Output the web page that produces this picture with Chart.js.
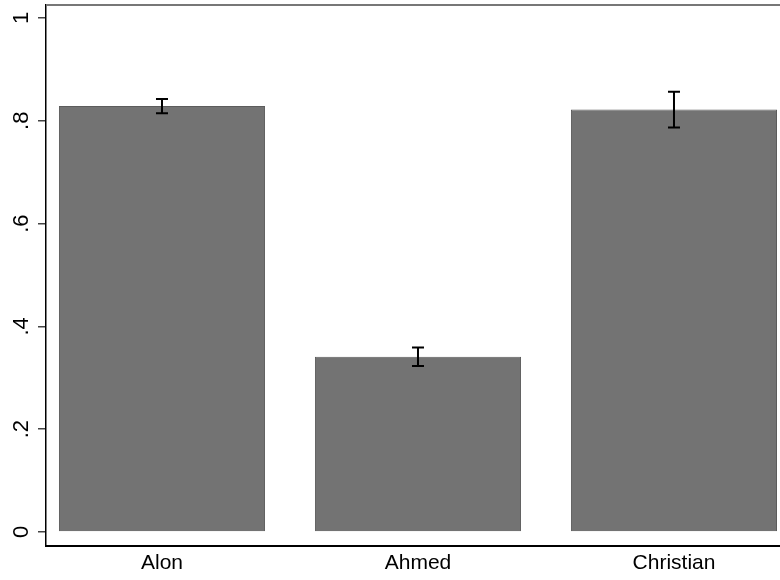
<!DOCTYPE html>
<html>
<head>
<meta charset="utf-8">
<script src="https://cdn.jsdelivr.net/npm/chart.js@4/dist/chart.umd.min.js"></script>
<style>
  html, body { margin: 0; padding: 0; background: #ffffff; }
  #wrap { width: 780px; height: 580px; overflow: hidden; }
</style>
</head>
<body>
<div id="wrap"><canvas id="c" width="780" height="580"></canvas></div>
<script>
// Mean share per name, with confidence interval bounds
const categories = ['Alon', 'Ahmed', 'Christian'];
const means = [0.829, 0.341, 0.822];
const ciLow = [0.8145, 0.323, 0.787];
const ciHigh = [0.8423, 0.359, 0.8565];
const yTickValues = [0, 0.2, 0.4, 0.6, 0.8, 1];
const yTickLabels = ['0', '.2', '.4', '.6', '.8', '1'];

const FONT = 'Liberation Sans, Arial, Helvetica, sans-serif';

// Capped error bars drawn on top of the bars
const errorBars = {
  id: 'errorBars',
  afterDatasetsDraw(chart) {
    const ctx = chart.ctx;
    const xs = chart.scales.x, ys = chart.scales.y;
    ctx.save();
    ctx.strokeStyle = '#000000';
    ctx.lineWidth = 2;
    categories.forEach((c, i) => {
      const x = xs.getPixelForValue(i);
      const yl = ys.getPixelForValue(ciLow[i]);
      const yh = ys.getPixelForValue(ciHigh[i]);
      ctx.beginPath();
      ctx.moveTo(x, yl); ctx.lineTo(x, yh);
      ctx.moveTo(x - 6, yl); ctx.lineTo(x + 6, yl);
      ctx.moveTo(x - 6, yh); ctx.lineTo(x + 6, yh);
      ctx.stroke();
    });
    ctx.restore();
  }
};

// Thin grey frame line along the top of the plot region
const topFrame = {
  id: 'topFrame',
  afterDraw(chart) {
    const ctx = chart.ctx, a = chart.chartArea;
    ctx.save();
    ctx.strokeStyle = '#777777';
    ctx.lineWidth = 2;
    ctx.beginPath();
    ctx.moveTo(a.left, a.top);
    ctx.lineTo(chart.width, a.top);
    ctx.stroke();
    ctx.restore();
  }
};

new Chart(document.getElementById('c'), {
  type: 'bar',
  data: {
    datasets: [{
      data: categories.map((c, i) => ({ x: i, y: means[i] })),
      backgroundColor: '#737373',
      borderColor: '#5c5c5c',
      borderWidth: 1,
      categoryPercentage: 1,
      barPercentage: 0.805
    }]
  },
  options: {
    responsive: false,
    animation: false,
    devicePixelRatio: 1,
    layout: { padding: { top: 5, right: 0, left: 0, bottom: 0 } },
    plugins: { legend: { display: false }, tooltip: { enabled: false } },
    scales: {
      x: {
        type: 'linear',
        offset: false,
        min: -0.4531,
        max: 2.4141,
        afterBuildTicks(s) { s.ticks = categories.map((c, i) => ({ value: i })); },
        afterFit(s) { s.height = 34; s.paddingLeft = 0; s.paddingRight = 0; },
        grid: { display: false },
        border: { display: true, color: '#000000', width: 2 },
        ticks: {
          autoSkip: false,
          maxRotation: 0,
          minRotation: 0,
          padding: -3,
          color: '#000000',
          font: { family: FONT, size: 21 },
          callback: (v) => categories[v]
        }
      },
      y: {
        type: 'linear',
        min: -0.0273,
        max: 1.0253,
        afterBuildTicks(s) { s.ticks = yTickValues.map(v => ({ value: v })); },
        afterFit(s) { s.width = 46; s.paddingTop = 0; s.paddingBottom = 0; },
        grid: {
          display: true,
          drawOnChartArea: false,
          drawTicks: true,
          tickLength: 8,
          color: '#444444',
          lineWidth: 1.5
        },
        border: { display: true, color: '#000000', width: 1.5 },
        ticks: {
          minRotation: 90,
          maxRotation: 90,
          crossAlign: 'center',
          padding: 7,
          color: '#000000',
          font: { family: FONT, size: 22 },
          callback: (v) => yTickLabels[yTickValues.indexOf(v)]
        }
      }
    }
  },
  plugins: [errorBars, topFrame]
});
</script>
</body>
</html>
